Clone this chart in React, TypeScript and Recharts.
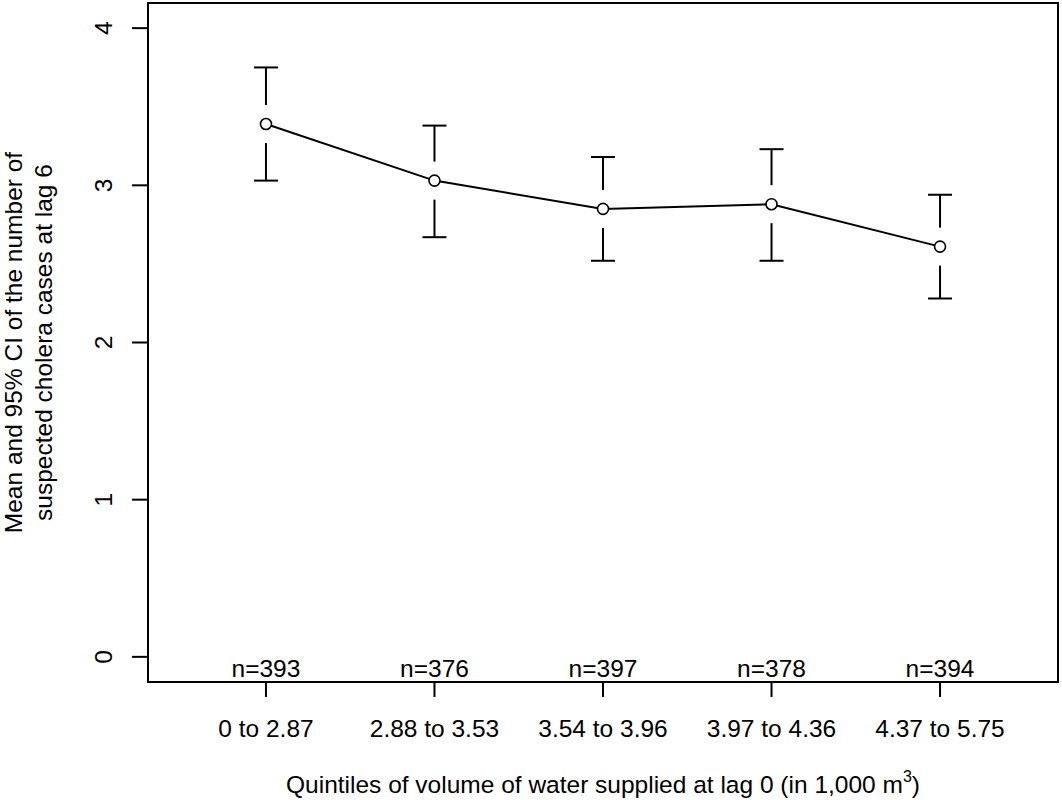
import { ComposedChart, ErrorBar, Label, Line, ReferenceArea, XAxis, YAxis } from "recharts";

// quintile groups of water volume (1,000 m3)
const categories = [
	"0 to 2.87",
	"2.88 to 3.53",
	"3.54 to 3.96",
	"3.97 to 4.36",
	"4.37 to 5.75",
];
const counts = [393, 376, 397, 378, 394];
const means = [3.39, 3.03, 2.85, 2.88, 2.61];
const lowerCI = [3.03, 2.67, 2.52, 2.52, 2.28];
const upperCI = [3.75, 3.38, 3.18, 3.23, 2.94];
const yTicks = [0, 1, 2, 3, 4];

const xDomain = [0.3, 5.7];
const yDomain = [-0.16, 4.16];

const data = categories.map((label, i) => ({
	pos: i + 1,
	label,
	n: counts[i],
	mean: means[i],
	ci: [means[i] - lowerCI[i], upperCI[i] - means[i]],
}));

const font = "'Liberation Sans', Arial, sans-serif";
const fontSize = 24.5;

function XTick(props: any) {
	const { x, y, index } = props;
	const d = data[index];
	if (!d) return null;
	return (
		<g fontFamily={font} fontSize={fontSize} fill="#000">
			<text x={x} y={y - 20} textAnchor="middle">
				n={d.n}
			</text>
			<text x={x} y={y + 40} textAnchor="middle">
				{d.label}
			</text>
		</g>
	);
}

function YTick(props: any) {
	const { x, y, payload } = props;
	return (
		<text
			x={x}
			y={y}
			transform={`rotate(-90 ${x} ${y})`}
			textAnchor="middle"
			fontFamily={font}
			fontSize={fontSize}
			fill="#000"
		>
			{payload.value}
		</text>
	);
}

function MeanDot(props: any) {
	const { cx, cy, index } = props;
	if (cx == null || cy == null) return null;
	return (
		<g key={`dot-${index}`}>
			{/* gap in the CI whisker around the mean */}
			<rect x={cx - 2.5} y={cy - 19} width={5} height={38} fill="#fff" />
			<circle cx={cx} cy={cy} r={5.5} fill="#fff" stroke="#000" strokeWidth={1.6} />
		</g>
	);
}

function XTitle(props: any) {
	const vb = props.viewBox || { x: 148, y: 682, width: 910, height: 118 };
	const cx = vb.x + vb.width / 2;
	return (
		<text x={cx} y={vb.y + 111} textAnchor="middle" fontFamily={font} fontSize={fontSize} fill="#000">
			Quintiles of volume of water supplied at lag 0 (in 1,000 m
			<tspan fontSize={16} dy={-11}>
				3
			</tspan>
			<tspan dy={11}>)</tspan>
		</text>
	);
}

function YTitle(props: any) {
	const vb = props.viewBox || { x: 0, y: 3, width: 148, height: 679 };
	const cy = vb.y + vb.height / 2;
	return (
		<g fontFamily={font} fontSize={fontSize} fill="#000">
			<text x={-cy} y={22} transform="rotate(-90)" textAnchor="middle">
				Mean and 95% CI of the number of
			</text>
			<text x={-cy} y={52} transform="rotate(-90)" textAnchor="middle">
				suspected cholera cases at lag 6
			</text>
		</g>
	);
}

export default function App() {
	return (
		<div style={{ position: "absolute", left: 0, top: 0, background: "#fff" }}>
			<ComposedChart
				width={1062}
				height={800}
				data={data}
				margin={{ top: 3, right: 4, bottom: 0, left: 0 }}
			>
				<XAxis
					dataKey="pos"
					type="number"
					domain={xDomain}
					ticks={data.map((d) => d.pos)}
					allowDataOverflow
					interval={0}
					height={118}
					axisLine={false}
					tickSize={15}
					tickMargin={0}
					tickLine={{ stroke: "#000", strokeWidth: 2 }}
					tick={<XTick />}
				>
					<Label content={<XTitle />} />
				</XAxis>
				<YAxis
					type="number"
					domain={yDomain}
					ticks={yTicks}
					allowDataOverflow
					interval={0}
					width={148}
					axisLine={false}
					tickSize={16}
					tickMargin={20}
					tickLine={{ stroke: "#000", strokeWidth: 2 }}
					tick={<YTick />}
				>
					<Label content={<YTitle />} />
				</YAxis>
				<ReferenceArea
					x1={xDomain[0]}
					x2={xDomain[1]}
					y1={yDomain[0]}
					y2={yDomain[1]}
					fill="none"
					fillOpacity={0}
					stroke="#000"
					strokeWidth={2}
					ifOverflow="visible"
				/>
				<Line
					type="linear"
					dataKey="mean"
					stroke="#000"
					strokeWidth={2}
					dot={MeanDot}
					activeDot={false}
					isAnimationActive={false}
				>
					<ErrorBar dataKey="ci" direction="y" width={12} stroke="#000" strokeWidth={2} isAnimationActive={false} />
				</Line>
			</ComposedChart>
		</div>
	);
}
